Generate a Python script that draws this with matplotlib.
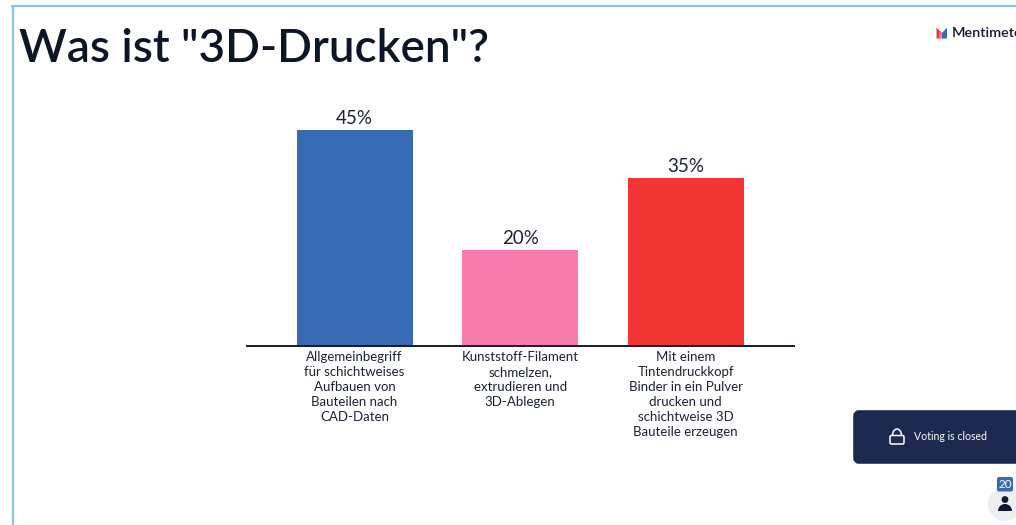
import numpy as np
import matplotlib
matplotlib.use('Agg')
import matplotlib.pyplot as plt
from matplotlib.patches import FancyBboxPatch, Circle, Polygon, Arc, Wedge

plt.rcParams['font.family'] = ['Lato', 'DejaVu Sans']

W, H = 1016, 525

title = 'Was ist "3D-Drucken"?'
categories = ['Allgemeinbegriff\nfür schichtweises\nAufbauen von\nBauteilen nach\nCAD-Daten',
              'Kunststoff-Filament\nschmelzen,\nextrudieren und\n3D-Ablegen',
              'Mit einem\nTintendruckkopf\nBinder in ein Pulver\ndrucken und\nschichtweise 3D\nBauteile erzeugen']
values = [45, 20, 35]
bar_colors = ['#376ab3', '#f47bab', '#f23633']
voters = 20

fig = plt.figure(figsize=(W / 100, H / 100), dpi=100)

# chart area
ax = fig.add_axes([247 / W, 1 - 346.3 / H, (794 - 247) / W, 246 / H])
x = np.arange(len(values))
bars = ax.bar(x, values, width=0.70, color=bar_colors)
for b, v in zip(bars, values):
    ax.annotate(f'{v}%', (b.get_x() + b.get_width() / 2, v), xytext=(0, 2.5),
                textcoords='offset points', ha='center', va='bottom',
                fontsize=13.5, color='#1c2233')
ax.set_xlim(-0.65, 2.655)
ax.set_ylim(0, 246 / 4.8)
ax.set_xticks(x)
ax.set_xticklabels(categories, fontsize=9.5, color='#1c2233', linespacing=1.29)
ax.set_yticks([])
ax.tick_params(axis='x', length=0, pad=3.5)
for s in ['top', 'left', 'right']:
    ax.spines[s].set_visible(False)
ax.spines['bottom'].set_linewidth(1.4)
ax.spines['bottom'].set_color('#141a2e')

# everything around the chart, in pixel coordinates
ui = fig.add_axes([0, 0, 1, 1], zorder=-1)
ui.set_xlim(0, W)
ui.set_ylim(H, 0)
ui.axis('off')

ui2 = fig.add_axes([0, 0, 1, 1], zorder=5)
ui2.set_xlim(0, W)
ui2.set_ylim(H, 0)
ui2.axis('off')
ui2.patch.set_alpha(0)

# window frame
ui.plot([12.8, 12.8], [5.5, H], color='#85c4ee', lw=1.6)
ui.plot([12, W], [5.8, 5.8], color='#85c4ee', lw=1.6)
ui.plot([12, W], [524.5, 524.5], color='#d8eefa', lw=1)

ui2.text(19, 49.5, title, fontsize=33, fontweight='semibold', color='#0d1626',
         va='center', ha='left')

# logo
ui2.add_patch(Polygon([[936.5, 27.5], [942, 33], [942, 38.5], [936.5, 38.5]], color='#f23633', lw=0))
ui2.add_patch(Polygon([[939, 32], [942, 33], [943, 38.5], [939, 38.5]], color='#f47bab', lw=0))
ui2.add_patch(Polygon([[942, 33], [947, 27.5], [947, 38.5], [942, 38.5]], color='#376ab3', lw=0))
ui2.text(951.5, 33, 'Mentimeter', fontsize=10.4, fontweight='semibold', color='#141a2e',
         va='center', ha='left', clip_on=True)

# voting closed box
ui.add_patch(FancyBboxPatch((856, 413), 170, 48, boxstyle='round,pad=0,rounding_size=3',
                            fc='#1b2a4e', ec='#1b2a4e', lw=4, clip_on=True))
ui2.add_patch(FancyBboxPatch((890, 435.5), 14, 8.5, boxstyle='round,pad=0,rounding_size=1.5',
                             fc='none', ec='white', lw=1.1))
ui2.add_patch(Arc((897, 435.5), 9, 13, theta1=180, theta2=360, ec='white', lw=1.1))
ui2.text(914, 437, 'Voting is closed', fontsize=7.6, color='white', va='center', ha='left')

# participant count
ui.add_patch(Circle((1005, 504), 17, fc='#eceef0', ec='none'))
ui2.add_patch(Circle((1005, 499.5), 3.4, fc='#101834', ec='none'))
ui2.add_patch(Wedge((1005, 511), 7, 180, 360, fc='#101834', ec='none'))
ui2.add_patch(FancyBboxPatch((997, 477), 16, 14.5, boxstyle='round,pad=0,rounding_size=2',
                             fc='#376ab3', ec='none'))
ui2.text(1005, 484, str(voters), fontsize=8.5, color='white', va='center', ha='center')

fig.savefig('out.png', dpi=100)
